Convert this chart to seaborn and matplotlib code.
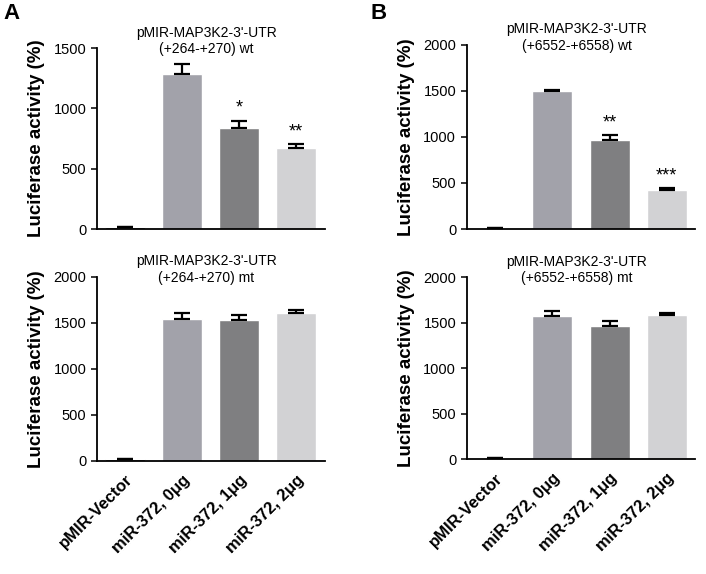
import matplotlib
matplotlib.use("Agg")
import matplotlib.pyplot as plt
import seaborn as sns
import pandas as pd

categories = ["pMIR-Vector", "miR-372, 0μg", "miR-372, 1μg", "miR-372, 2μg"]
bar_colors = ["#111111", "#a2a2aa", "#7f7f81", "#d2d2d4"]

a_wt_mean = [15, 1285, 840, 675]
a_wt_sem = [0, 85, 60, 28]
a_wt_stars = ["", "", "*", "**"]

a_mt_mean = [20, 1543, 1525, 1609]
a_mt_sem = [0, 66, 55, 29]

b_wt_mean = [8, 1497, 962, 423]
b_wt_sem = [0, 15, 54, 25]
b_wt_stars = ["", "", "**", "***"]

b_mt_mean = [10, 1579, 1469, 1582]
b_mt_sem = [0, 55, 55, 30]

titles = {
    "a_wt": "pMIR-MAP3K2-3'-UTR\n(+264-+270) wt",
    "a_mt": "pMIR-MAP3K2-3'-UTR\n(+264-+270) mt",
    "b_wt": "pMIR-MAP3K2-3'-UTR\n(+6552-+6558) wt",
    "b_mt": "pMIR-MAP3K2-3'-UTR\n(+6552-+6558) mt",
}

sns.set_style("ticks", {"axes.edgecolor": "black", "text.color": "black",
                        "axes.labelcolor": "black", "xtick.color": "black",
                        "ytick.color": "black"})
plt.rcParams["font.family"] = ["Liberation Sans", "DejaVu Sans"]

fig = plt.figure(figsize=(7.06, 5.74), dpi=100)

def draw_panel(rect, means, sems, ymax, title, stars=None, show_labels=False):
    ax = fig.add_axes(rect)
    df = pd.DataFrame({"group": categories, "value": means})
    sns.barplot(data=df, x="group", y="value", hue="group", palette=bar_colors,
                width=0.7, legend=False, ax=ax, saturation=1)
    ax.errorbar(range(len(means)), means, yerr=[[0] * len(sems), sems],
                fmt="none", ecolor="black", elinewidth=1.6, capsize=6, capthick=1.6)
    if stars:
        for i, s in enumerate(stars):
            if s:
                ax.text(i, means[i] + sems[i] + ymax * 0.02, s, ha="center", va="bottom",
                        fontsize=13)
    ax.set_xlim(-0.5, 3.5)
    ax.set_ylim(0, ymax)
    ax.set_yticks(range(0, ymax + 1, 500))
    ax.tick_params(axis="y", labelsize=10.5, width=1.1, length=4)
    ax.set_xlabel("")
    ax.set_ylabel("Luciferase activity (%)", fontsize=13.5, fontweight="bold", labelpad=6)
    if show_labels:
        ax.set_xticks(range(len(categories)))
        ax.set_xticklabels(categories, rotation=45, ha="right", rotation_mode="anchor",
                           fontsize=12, fontweight="bold")
        ax.tick_params(axis="x", length=0, pad=8)
    else:
        ax.set_xticks([])
    for side in ["left", "bottom"]:
        ax.spines[side].set_linewidth(1.3)
    sns.despine(ax=ax)
    ax.text(0.48, 1.04, title, transform=ax.transAxes, ha="center", va="center",
            fontsize=10, linespacing=1.25)
    return ax

draw_panel([0.137, 0.601, 0.323, 0.315], a_wt_mean, a_wt_sem, 1500, titles["a_wt"], a_wt_stars)
draw_panel([0.137, 0.197, 0.323, 0.321], a_mt_mean, a_mt_sem, 2000, titles["a_mt"], show_labels=True)
draw_panel([0.661, 0.601, 0.324, 0.321], b_wt_mean, b_wt_sem, 2000, titles["b_wt"], b_wt_stars)
draw_panel([0.661, 0.200, 0.324, 0.317], b_mt_mean, b_mt_sem, 2000, titles["b_mt"], show_labels=True)

fig.text(0.005, 0.995, "A", fontsize=16, fontweight="bold", va="top")
fig.text(0.525, 0.995, "B", fontsize=16, fontweight="bold", va="top")

fig.savefig("out.png", dpi=100)
